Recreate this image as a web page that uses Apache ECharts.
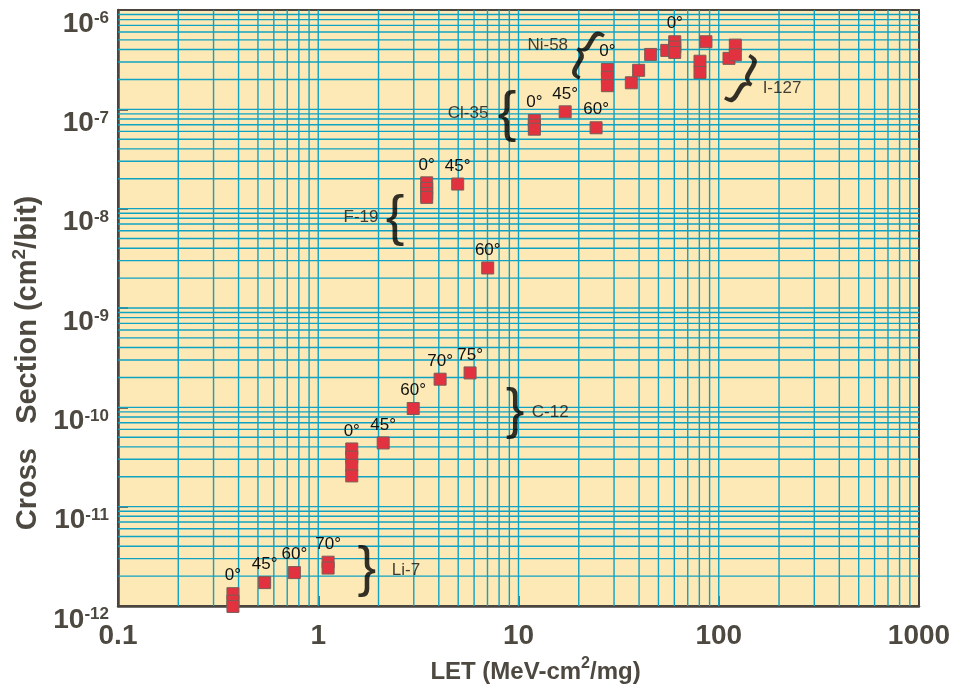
<!DOCTYPE html>
<html>
<head>
<meta charset="utf-8">
<title>Cross Section vs LET</title>
<script src="https://cdn.jsdelivr.net/npm/echarts@6/dist/echarts.min.js"></script>
<style>
html, body { margin: 0; padding: 0; background: #fff; }
#chart { width: 967px; height: 685px; }
</style>
</head>
<body>
<div id="chart"></div>
<script>
// measured points: LET (MeV-cm2/mg), cross section (cm2/bit), angle label
var letValues = [
    0.375, 0.375, 0.375, 0.54, 0.76, 1.12, 1.12,
    1.47, 1.47, 1.47, 1.47, 2.11, 2.98, 4.06, 5.73,
    3.48, 3.48, 3.48, 3.48, 4.97, 7.02,
    12.0, 12.0, 12.0, 17.1, 24.4,
    27.8, 27.8, 27.8, 36.6, 39.8, 45.7, 55, 60.3, 60.3, 60.3,
    80.6, 80.6, 86.3, 112.5, 121, 121
];
var crossSections = [
    1.33e-12, 1.12e-12, 0.99e-12, 1.72e-12, 2.17e-12, 2.76e-12, 2.41e-12,
    3.81e-11, 3.15e-11, 2.61e-11, 2.04e-11, 4.38e-11, 9.73e-11, 1.92e-10, 2.22e-10,
    1.82e-8, 1.6e-8, 1.42e-8, 1.30e-8, 1.77e-8, 2.53e-9,
    7.73e-8, 6.93e-8, 6.31e-8, 9.44e-8, 6.52e-8,
    2.52e-7, 2.1e-7, 1.73e-7, 1.85e-7, 2.47e-7, 3.57e-7, 3.92e-7, 4.79e-7, 4.23e-7, 3.74e-7,
    3.05e-7, 2.35e-7, 4.79e-7, 3.26e-7, 4.43e-7, 3.54e-7
];
var angleLabels = [
    '0°', '', '', '45°', '60°', '70°', '',
    '0°', '', '', '', '45°', '60°', '70°', '75°',
    '0°', '', '', '', '45°', '60°',
    '0°', '', '', '45°', '60°',
    '0°', '', '', '', '', '', '', '0°', '', '',
    '', '', '', '', '', ''
];

// ion names and the brace next to each group
var ionNames = ['Li-7', 'C-12', 'F-19', 'Cl-35', 'Ni-58', 'I-127'];
var ionLabelX = [2.74, 14.4, 1.635, 5.6, 14.0, 207];
var ionLabelY = [2.29e-12, 8.93e-11, 8.2e-9, 9.16e-8, 4.44e-7, 1.64e-7];
var braceX = [1.75, 9.61, 2.42, 8.76, 21.5, 135];
var braceY = [2.34e-12, 9.14e-11, 8.0e-9, 8.95e-8, 3.77e-7, 1.97e-7];
var braceChars = ['}', '}', '{', '{', '{', '}'];
var braceTilt = [0, 0, 0, 0, -30, -30];

var xTicks = [0.1, 1, 10, 100, 1000];
var yMin = 1e-12, yMax = 1e-6;

var gridColor = '#10a2c2';
var textColor = '#4d4940';
var font = '"Liberation Sans", Arial, sans-serif';

// grid lines at 1..9 of each decade: [x, y, 0 = vertical / 1 = horizontal]
var xMin = xTicks[0], xMax = xTicks[xTicks.length - 1];
var gridLines = [];
for (var e = -1; e < 3; e++) {
    for (var m = 1; m < 10; m++) {
        var xv = m * Math.pow(10, e);
        if (xv > xMin) gridLines.push([xv, yMin, 0]);
    }
}
for (var e2 = -12; e2 < -6; e2++) {
    for (var m2 = 1; m2 < 10; m2++) {
        var yv = m2 * Math.pow(10, e2);
        if (yv > yMin) gridLines.push([xMin, yv, 1]);
    }
}

function renderGridLine(params, api) {
    var a, b;
    if (api.value(2) === 0) {
        a = api.coord([api.value(0), yMin]);
        b = api.coord([api.value(0), yMax]);
    } else {
        a = api.coord([xMin, api.value(1)]);
        b = api.coord([xMax, api.value(1)]);
    }
    return {
        type: 'line',
        shape: { x1: a[0], y1: a[1], x2: b[0], y2: b[1] },
        style: { stroke: gridColor, lineWidth: 1.4 }
    };
}

var points = letValues.map(function (x, i) {
    var item = { value: [x, crossSections[i]] };
    if (angleLabels[i]) {
        item.label = { show: true, formatter: angleLabels[i] };
    }
    return item;
});

var ionItems = ionNames.map(function (n, i) {
    return { value: [ionLabelX[i], ionLabelY[i]], label: { formatter: n } };
});
var braceItems = braceChars.map(function (c, i) {
    return { value: [braceX[i], braceY[i]], label: { formatter: c, rotate: braceTilt[i] } };
});

var chart = echarts.init(document.getElementById('chart'));
var option = {
    animation: false,
    backgroundColor: '#fff',
    grid: {
        left: 118, right: 48, top: 10, bottom: 79,
        outerBoundsMode: 'none',
        containLabel: false,
        show: true,
        backgroundColor: '#fce9b6',
        borderColor: '#4a463f',
        borderWidth: 2
    },
    xAxis: {
        type: 'log',
        logBase: 10,
        min: xMin,
        max: xMax,
        name: '{n|LET (MeV-cm}{s|2}{n|/mg)}',
        nameLocation: 'middle',
        nameGap: 50,
        nameTextStyle: {
            padding: [0, 0, 0, 34],
            rich: {
                n: { fontSize: 24, fontWeight: 'bold', color: textColor, fontFamily: font, lineHeight: 28, verticalAlign: 'bottom' },
                s: { fontSize: 16, fontWeight: 'bold', color: textColor, fontFamily: font, lineHeight: 28, verticalAlign: 'top' }
            }
        },
        axisLine: { lineStyle: { color: '#4a463f', width: 2.5 } },
        axisTick: { inside: true, length: 10, lineStyle: { color: '#4a463f', width: 1.5 } },
        axisLabel: {
            margin: 16,
            fontSize: 28, fontWeight: 'bold', color: textColor, fontFamily: font,
            formatter: function (v) { return String(Number(v.toPrecision(3))); }
        },
        splitLine: { show: false }
    },
    yAxis: {
        type: 'log',
        logBase: 10,
        min: yMin,
        max: yMax,
        name: '{n|Cross   Section (cm}{s|2}{n|/bit)}',
        nameLocation: 'middle',
        nameGap: 67,
        nameTextStyle: {
            padding: [0, 110, 0, 0],
            rich: {
                n: { fontSize: 29, fontWeight: 'bold', color: textColor, fontFamily: font, lineHeight: 32, verticalAlign: 'bottom' },
                s: { fontSize: 19, fontWeight: 'bold', color: textColor, fontFamily: font, lineHeight: 32, verticalAlign: 'top' }
            }
        },
        axisLine: { lineStyle: { color: '#4a463f', width: 2.5 } },
        axisTick: { inside: true, length: 10, lineStyle: { color: '#4a463f', width: 1.5 } },
        axisLabel: {
            margin: 9,
            verticalAlign: 'top',
            formatter: function (v) {
                return '{b|10}{s|' + Math.round(Math.log10(v)) + '}';
            },
            rich: {
                b: { fontSize: 28, fontWeight: 'bold', color: textColor, fontFamily: font, lineHeight: 28, verticalAlign: 'bottom' },
                s: { fontSize: 17, fontWeight: 'bold', color: textColor, fontFamily: font, lineHeight: 28, verticalAlign: 'top' }
            }
        },
        splitLine: { show: false }
    },
    series: [
        {
            name: 'grid',
            type: 'custom',
            silent: true,
            z: 1,
            clip: false,
            renderItem: renderGridLine,
            encode: { x: 0, y: 1 },
            data: gridLines
        },
        {
            name: 'points',
            type: 'scatter',
            z: 10,
            clip: false,
            symbol: 'rect',
            symbolSize: [12, 12],
            itemStyle: { color: '#e2323f', borderColor: '#7a5d57', borderWidth: 1, opacity: 1 },
            label: {
                show: false,
                position: 'top',
                distance: 3,
                fontSize: 17,
                color: '#111',
                fontFamily: font
            },
            data: points
        },
        {
            name: 'ions',
            type: 'scatter',
            z: 11,
            silent: true,
            symbolSize: 0,
            label: { show: true, position: 'inside', fontSize: 17, color: '#111', fontFamily: font },
            data: ionItems
        },
        {
            name: 'braces',
            type: 'scatter',
            z: 11,
            silent: true,
            symbolSize: 0,
            label: { show: true, position: 'inside', fontSize: 56, color: '#000', fontFamily: font },
            data: braceItems
        }
    ]
};
chart.setOption(option);
</script>
</body>
</html>
